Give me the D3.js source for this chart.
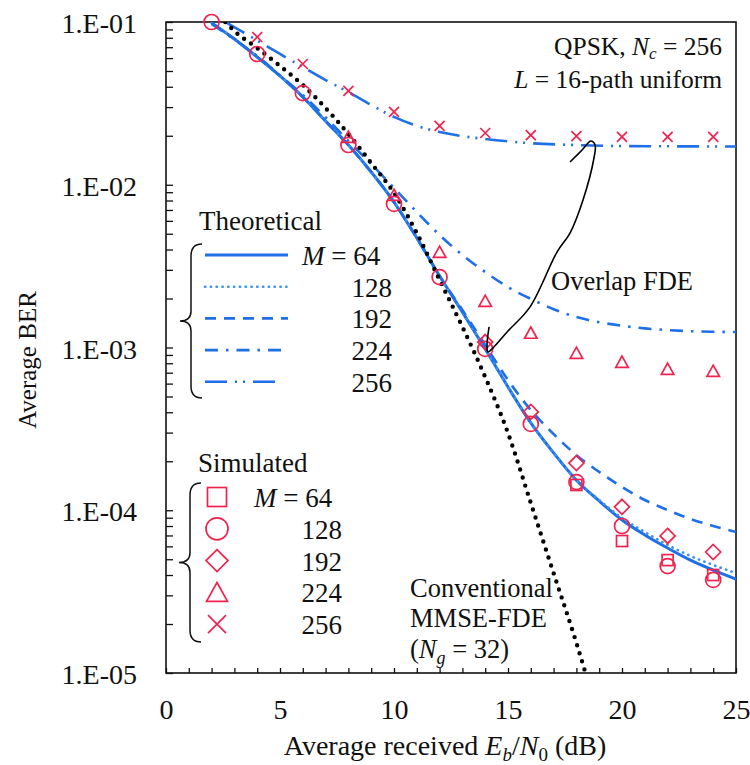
<!DOCTYPE html>
<html><head><meta charset="utf-8">
<script src="https://cdn.jsdelivr.net/npm/d3@7"></script>
<style>
body{margin:0;background:#fff}
svg{display:block;background:#fff}
text{font-family:"Liberation Serif","Times New Roman",serif;fill:#111}
</style>
</head><body><svg id="c" width="750" height="765"></svg>
<script>
// ---------------- DATA ----------------
const theoX = [2,3,4,5,6,7,8,9,10,11,12,13,14,15,16,17,18,19,20,21,22,23,24,25];
const theoM64  = [0.0986,0.0786,0.0609,0.0466,0.0346,0.0246,0.01754,0.01198,7.83e-3,4.71e-3,2.75e-3,1.65e-3,9.79e-4,5.72e-4,3.44e-4,2.25e-4,1.53e-4,1.14e-4,8.71e-5,7.05e-5,5.86e-5,4.94e-5,4.29e-5,3.78e-5];
const theoM128 = [0.0986,0.0786,0.0609,0.0466,0.0346,0.0246,0.01754,0.01198,7.83e-3,4.71e-3,2.75e-3,1.65e-3,9.79e-4,5.72e-4,3.44e-4,2.25e-4,1.53e-4,1.156e-4,8.96e-5,7.35e-5,6.12e-5,5.24e-5,4.61e-5,4.11e-5];
const theoM192 = [0.0986,0.0786,0.0609,0.0466,0.0346,0.0246,0.01754,0.01198,7.83e-3,4.71e-3,2.75e-3,1.70e-3,1.036e-3,6.31e-4,4.13e-4,2.94e-4,2.18e-4,1.72e-4,1.39e-4,1.156e-4,1.003e-4,8.84e-5,8.00e-5,7.35e-5];
const theoM224 = [0.0972,0.078,0.0618,0.047,0.0356,0.026,0.01857,0.01341,9.55e-3,6.80e-3,4.91e-3,3.70e-3,2.91e-3,2.35e-3,1.99e-3,1.72e-3,1.54e-3,1.43e-3,1.36e-3,1.31e-3,1.28e-3,1.26e-3,1.25e-3,1.245e-3];
const theo256X = [2.6,4,5,6,7,8,9,10,11,12,13,14,16,18,20,25];
const theoM256 = [0.1,0.0770,0.0636,0.0529,0.0440,0.0371,0.0309,0.0261,0.0230,0.0211,0.0199,0.0191,0.0180,0.01754,0.01729,0.01718];
const convX = [2.6,3,4,5,6,7,8,9,10,11,12,13,14,15,16,17,18,18.4];
const convBER = [0.1,0.088,0.0692,0.0537,0.0410,0.0296,0.0205,0.0136,8.9e-3,5.05e-3,2.6e-3,1.34e-3,6.59e-4,2.98e-4,1.108e-4,4.11e-5,1.53e-5,1.0e-5];

const simX128 = [2,4,6,8,10,12,14,16,18,20,22,24];
const simM128 = [0.1,0.0636,0.0366,0.01755,7.62e-3,2.71e-3,9.8e-4,3.39e-4,1.49e-4,8.0e-5,4.54e-5,3.73e-5];
const simX64 = [18,20,22,24];
const simM64 = [1.43e-4,6.47e-5,4.94e-5,4.0e-5];
const simX192 = [14,16,18,20,22,24];
const simM192 = [1.08e-3,4.02e-4,1.95e-4,1.05e-4,6.95e-5,5.54e-5];
const simX224 = [8,10,12,14,16,18,20,22,24];
const simM224 = [0.01966,8.65e-3,3.86e-3,1.93e-3,1.23e-3,9.25e-4,8.15e-4,7.38e-4,7.17e-4];
const simX256 = [4,6,8,10,12,14,16,18,20,22,24];
const simM256 = [0.0809,0.0552,0.0377,0.028,0.0230,0.0208,0.0202,0.0199,0.0197,0.0197,0.0197];

// pointer curve for "Overlap FDE" annotation, in data units (dB, BER)
const pointerX = [17.72,18.25,18.64,18.82,18.77,18.29,17.72,17.15,15.96,14.96,14.34,14.12,14.08,14.17];
const pointerY = [0.01379,0.01635,0.01857,0.01754,0.0146,8.06e-3,5.05e-3,3.86e-3,1.77e-3,1.245e-3,9.93e-4,9.38e-4,1.036e-3,1.34e-3];

const xTicks = [0,5,10,15,20,25];
const yTicks = [1e-5,1e-4,1e-3,1e-2,1e-1];
const legendM = ["64","128","192","224","256"];

// ---------------- CHART ----------------
const BLUE = "#1f6fe6", BLUE2 = "#3a92f2", RED = "#f0234e";
const svg = d3.select("#c");
const L = 166, R = 736, T = 22, B = 673;
const x = d3.scaleLinear().domain([0,25]).range([L,R]);
const y = d3.scaleLog().domain([1e-5,1e-1]).range([B,T]);

svg.append("defs").append("clipPath").attr("id","clip")
  .append("rect").attr("x",L).attr("y",T).attr("width",R-L).attr("height",B-T);

// axes
const minor = [];
for (let k=-5;k<=-2;k++) for (let m=1;m<=9;m++) minor.push(m*Math.pow(10,k));
minor.push(1e-1);
const gy = svg.append("g").attr("transform",`translate(${L},0)`)
  .call(d3.axisLeft(y).tickValues(minor).tickSize(-7).tickSizeOuter(0).tickPadding(29)
    .tickFormat(d => yTicks.some(t=>Math.abs(t-d)/t<1e-6) ? "1.E-0"+Math.round(-Math.log10(d)) : ""));
gy.selectAll("text").attr("font-size",28).attr("dy","0.38em").attr("fill","#111");
gy.selectAll("line").attr("stroke","#111").attr("stroke-width",1.3);

const gx = svg.append("g").attr("transform",`translate(0,${B})`)
  .call(d3.axisBottom(x).tickValues(d3.range(0,26,1)).tickSize(-5).tickSizeOuter(0).tickPadding(26)
    .tickFormat(d => xTicks.includes(d) ? d : ""));
gx.selectAll("text").attr("font-size",28).attr("fill","#111");
gx.selectAll("line").attr("stroke","#111").attr("stroke-width",1.3);
svg.selectAll(".domain").remove();

svg.append("rect").attr("x",L).attr("y",T).attr("width",R-L).attr("height",B-T)
  .attr("fill","none").attr("stroke","#111").attr("stroke-width",1.6);

// lines
const plot = svg.append("g").attr("clip-path","url(#clip)");
const line = d3.line().x(d=>x(d[0])).y(d=>y(d[1])).curve(d3.curveMonotoneX);
function series(xs, ys){ return xs.map((v,i)=>[v,ys[i]]); }
const styles = [
  {d:series(theoX,theoM64),  c:BLUE,  w:3,   dash:null},
  {d:series(theoX,theoM128), c:BLUE2, w:2.6, dash:"0.3 5.5", cap:"round"},
  {d:series(theoX,theoM192), c:BLUE,  w:2.6, dash:"11 8"},
  {d:series(theoX,theoM224), c:BLUE,  w:2.6, dash:"13 8 2.5 8"},
  {d:series(theo256X,theoM256), c:BLUE, w:2.6, dash:"22 8 2 6 2 8"}
];
styles.forEach(s=>{
  plot.append("path").attr("d",line(s.d)).attr("fill","none").attr("stroke",s.c)
    .attr("stroke-width",s.w).attr("stroke-dasharray",s.dash).attr("stroke-linecap",s.cap||"butt");
});
plot.append("path").attr("d",line(series(convX,convBER))).attr("fill","none").attr("stroke","#000")
  .attr("stroke-width",4.4).attr("stroke-dasharray","0 8.4").attr("stroke-linecap","round");

// markers
function marker(g, type, cx, cy, s){
  let p;
  if (type==="circle") p = g.append("circle").attr("cx",cx).attr("cy",cy).attr("r",s/2);
  else if (type==="square") p = g.append("rect").attr("x",cx-s/2).attr("y",cy-s/2).attr("width",s).attr("height",s);
  else if (type==="diamond") p = g.append("path").attr("d",`M${cx},${cy-s/2}L${cx+s/2},${cy}L${cx},${cy+s/2}L${cx-s/2},${cy}Z`);
  else if (type==="triangle") p = g.append("path").attr("d",`M${cx},${cy-s*0.47}L${cx+s/2},${cy+s*0.43}L${cx-s/2},${cy+s*0.43}Z`);
  else p = g.append("path").attr("d",`M${cx-s/2},${cy-s/2}L${cx+s/2},${cy+s/2}M${cx+s/2},${cy-s/2}L${cx-s/2},${cy+s/2}`);
  p.attr("fill","none").attr("stroke",RED).attr("stroke-width",1.7);
}
const mk = svg.append("g");
const simSets = [
  {t:"square",  xs:simX64,  ys:simM64,  s:11},
  {t:"circle",  xs:simX128, ys:simM128, s:15},
  {t:"diamond", xs:simX192, ys:simM192, s:15},
  {t:"triangle",xs:simX224, ys:simM224, s:12.5},
  {t:"cross",   xs:simX256, ys:simM256, s:10}
];
simSets.forEach(s=> s.xs.forEach((v,i)=> marker(mk, s.t, x(v), y(s.ys[i]), s.s)));

// pointer curve
svg.append("path").attr("d", d3.line().x(d=>x(d[0])).y(d=>y(d[1])).curve(d3.curveCatmullRom)(series(pointerX,pointerY)))
  .attr("fill","none").attr("stroke","#000").attr("stroke-width",1.6);

// texts
function txt(xp, yp, size, anchor){ return svg.append("text").attr("x",xp).attr("y",yp).attr("font-size",size).attr("text-anchor",anchor||"start"); }
let t = txt(722,55,25.5,"end");
t.append("tspan").text("QPSK, ");
t.append("tspan").attr("font-style","italic").text("N");
t.append("tspan").attr("font-style","italic").attr("font-size",17).attr("dy",4).text("c");
t.append("tspan").attr("dy",-4).text(" = 256");
t = txt(722,88,25.5,"end");
t.append("tspan").attr("font-style","italic").text("L");
t.append("tspan").text(" = 16-path uniform");

txt(551,290,26.5).text("Overlap FDE");
txt(410,597,26.5).text("Conventional");
txt(410,627,26.5).text("MMSE-FDE");
t = txt(410,658,26.5);
t.append("tspan").text("(");
t.append("tspan").attr("font-style","italic").text("N");
t.append("tspan").attr("font-style","italic").attr("font-size",18).attr("dy",6).text("g");
t.append("tspan").attr("dy",-6).text(" = 32)");

// axis titles
t = txt(445,755,28,"middle");
t.append("tspan").text("Average received ");
t.append("tspan").attr("font-style","italic").text("E");
t.append("tspan").attr("font-style","italic").attr("font-size",19).attr("dy",6).text("b");
t.append("tspan").attr("dy",-6).text("/");
t.append("tspan").attr("font-style","italic").text("N");
t.append("tspan").attr("font-size",19).attr("dy",6).text("0");
t.append("tspan").attr("dy",-6).text(" (dB)");
svg.append("text").attr("transform","translate(36,360) rotate(-90)").attr("text-anchor","middle")
  .attr("font-size",25).text("Average BER");

// legend: theoretical
function brace(x0, y0, y1){
  const xm = x0+11, xt = x0, xe = x0+22, ym=(y0+y1)/2;
  return `M${xe},${y0}Q${xm},${y0} ${xm},${y0+12}L${xm},${ym-10}Q${xm},${ym} ${xt},${ym}Q${xm},${ym} ${xm},${ym+10}L${xm},${y1-12}Q${xm},${y1} ${xe},${y1}`;
}
txt(199,230,27).text("Theoretical");
svg.append("path").attr("d",brace(180,244,398)).attr("fill","none").attr("stroke","#111").attr("stroke-width",1.5);
styles.forEach((s,i)=>{
  const yy = 255 + i*31.7;
  svg.append("line").attr("x1",205).attr("x2", i===4?282:288).attr("y1",yy).attr("y2",yy)
    .attr("stroke",s.c).attr("stroke-width",s.w).attr("stroke-dasharray",s.dash).attr("stroke-linecap",s.cap||"butt");
  if (i===0){
    const tt = txt(302,yy+10,27);
    tt.append("tspan").attr("font-style","italic").text("M");
    tt.append("tspan").text(" = "+legendM[i]);
  } else txt(392,yy+10,27,"end").text(legendM[i]);
});

// legend: simulated
txt(198,472,27).text("Simulated");
svg.append("path").attr("d",brace(179,483,642)).attr("fill","none").attr("stroke","#111").attr("stroke-width",1.5);
const legSizes = [19,22,22,21,18];
simSets.forEach((s,i)=>{
  const yy = 497 + i*31.8;
  marker(svg, s.t, 217, yy, legSizes[i]);
  if (i===0){
    const tt = txt(254,yy+10,27);
    tt.append("tspan").attr("font-style","italic").text("M");
    tt.append("tspan").text(" = "+legendM[i]);
  } else txt(342,yy+10,27,"end").text(legendM[i]);
});
</script></body></html>
